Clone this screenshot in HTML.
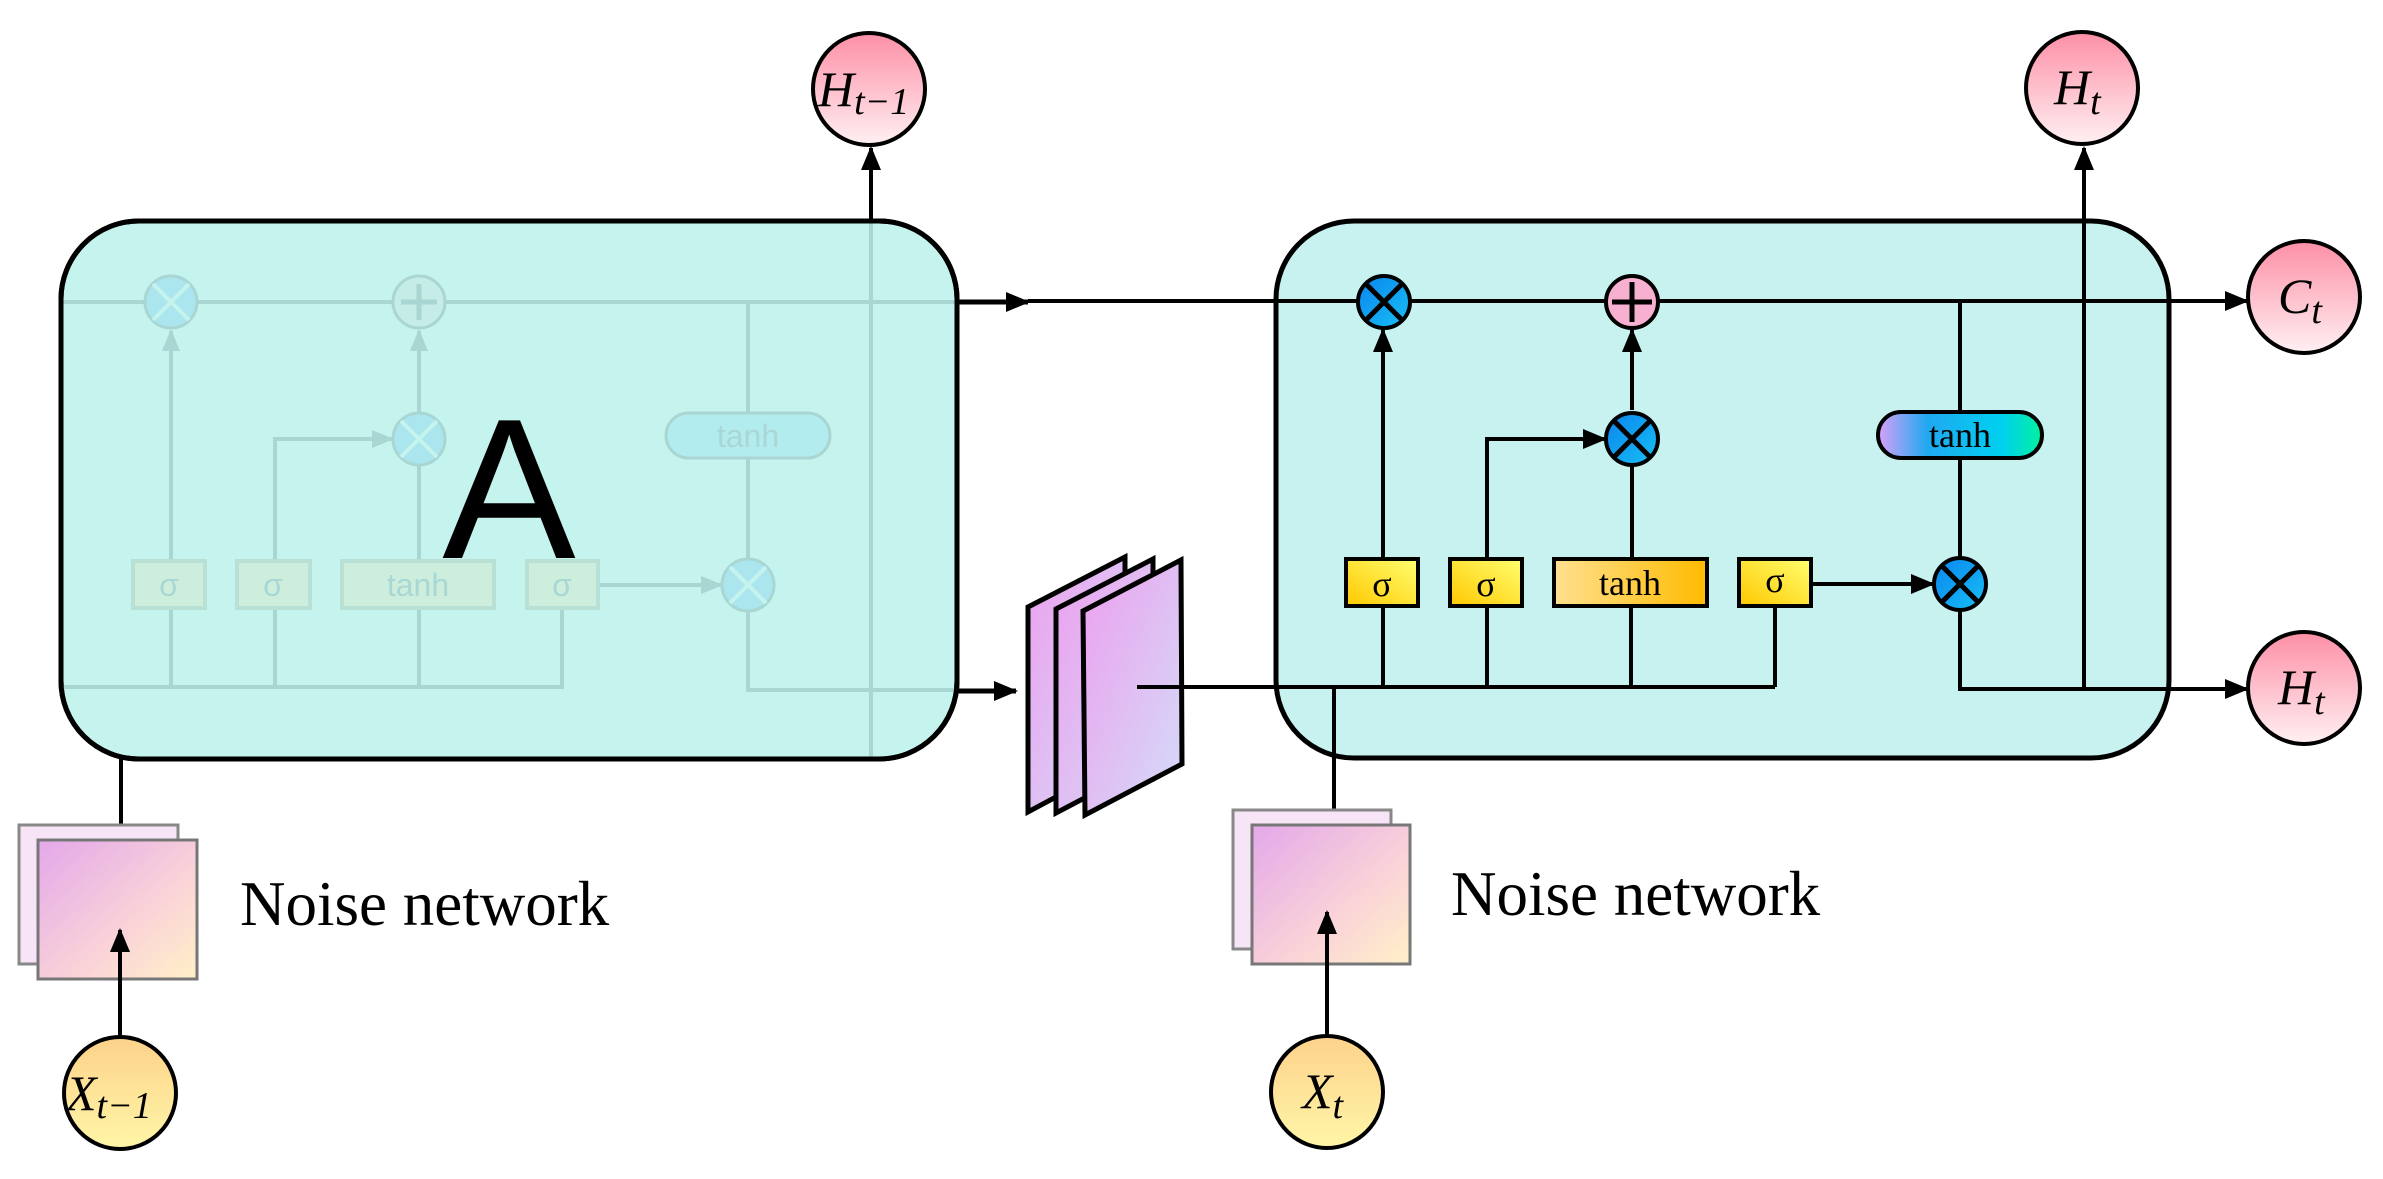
<!DOCTYPE html>
<html><head><meta charset="utf-8"><style>
html,body{margin:0;padding:0;background:#fff}
svg{display:block}
text{font-family:"Liberation Serif",serif}
</style></head><body>
<svg width="2383" height="1179" viewBox="0 0 2383 1179" xmlns="http://www.w3.org/2000/svg">
<defs>
<marker id="ar" markerWidth="24" markerHeight="20" refX="22" refY="10" orient="auto" markerUnits="userSpaceOnUse">
<path d="M0,0 L24,10 L0,20 Z" fill="#000"/></marker>
<marker id="arf" markerWidth="22" markerHeight="18" refX="20" refY="9" orient="auto" markerUnits="userSpaceOnUse">
<path d="M0,0 L22,9 L0,18 Z" fill="#a9d6d3"/></marker>
<linearGradient id="pk" x1="0" y1="0" x2="0" y2="1"><stop offset="0" stop-color="#fd8fa6"/><stop offset="1" stop-color="#fff0f2"/></linearGradient>
<linearGradient id="yl" x1="0" y1="0" x2="0" y2="1"><stop offset="0" stop-color="#fdd28a"/><stop offset="1" stop-color="#fff6a8"/></linearGradient>
<linearGradient id="bl" x1="0" y1="0" x2="1" y2="1"><stop offset="0" stop-color="#0a84ee"/><stop offset="1" stop-color="#18c0f5"/></linearGradient>
<linearGradient id="sg" x1="1" y1="0" x2="0" y2="1"><stop offset="0" stop-color="#ffff70"/><stop offset="1" stop-color="#ffc800"/></linearGradient>
<linearGradient id="th" x1="0" y1="0" x2="1" y2="0"><stop offset="0" stop-color="#ffe090"/><stop offset="1" stop-color="#ffbb00"/></linearGradient>
<linearGradient id="pill" x1="0" y1="0" x2="1" y2="0"><stop offset="0" stop-color="#d8a0f8"/><stop offset="0.3" stop-color="#20a8f0"/><stop offset="0.75" stop-color="#00d0f0"/><stop offset="1" stop-color="#00f0a0"/></linearGradient>
<linearGradient id="pn" x1="0" y1="0" x2="1" y2="1"><stop offset="0" stop-color="#eca0ee"/><stop offset="1" stop-color="#d4dcf8"/></linearGradient>
<linearGradient id="ns" x1="0" y1="0" x2="1" y2="1"><stop offset="0" stop-color="#e3a8ea"/><stop offset="0.6" stop-color="#fad3d8"/><stop offset="1" stop-color="#fff0c8"/></linearGradient>
</defs>

<!-- LEFT BOX -->
<rect x="61" y="221" width="896" height="538" rx="78" fill="#c5f3ed" stroke="#000" stroke-width="5"/>
<g stroke="#a9d6d3" stroke-width="4" fill="none">
<line x1="61" y1="302" x2="957" y2="302"/>
<line x1="171" y1="561" x2="171" y2="331" marker-end="url(#arf)"/>
<line x1="419" y1="412" x2="419" y2="331" marker-end="url(#arf)"/>
<polyline points="275,561 275,439 392,439" marker-end="url(#arf)"/>
<line x1="419" y1="561" x2="419" y2="466"/>
<line x1="748" y1="302" x2="748" y2="558"/>
<line x1="598" y1="585" x2="721" y2="585" marker-end="url(#arf)"/>
<polyline points="748,612 748,690 957,690"/>
<line x1="871" y1="221" x2="871" y2="759"/>
<polyline points="61,687 562,687 562,608"/>
<line x1="171" y1="687" x2="171" y2="608"/><line x1="275" y1="687" x2="275" y2="608"/><line x1="419" y1="687" x2="419" y2="608"/>
</g>
<g fill="#abe6ee" stroke="#a9d6d3" stroke-width="3">
<circle cx="171" cy="302" r="26"/><circle cx="419" cy="439" r="26"/><circle cx="748" cy="585" r="26"/>
<circle cx="419" cy="302" r="26" fill="#c5ece6"/>
</g>
<g stroke="#c5f3ed" stroke-width="4">
<path d="M153,284 L189,320 M189,284 L153,320"/><path d="M401,421 L437,457 M437,421 L401,457"/><path d="M730,567 L766,603 M766,567 L730,603"/>
</g>
<path d="M401,302 L437,302 M419,284 L419,320" stroke="#a9d6d3" stroke-width="5"/>
<g fill="#cdeedd" stroke="#b8e0d4" stroke-width="4">
<rect x="133" y="561" width="72" height="47"/><rect x="237" y="561" width="73" height="47"/><rect x="342" y="561" width="152" height="47"/><rect x="527" y="561" width="71" height="47"/>
</g>
<rect x="666" y="413" width="164" height="45" rx="22.5" fill="#b3ecee" stroke="#a9d6d3" stroke-width="3"/>
<g fill="#a9d8d4" font-family="Liberation Sans, sans-serif" text-anchor="middle" font-size="32">
<text x="169" y="596" style="font-family:'Liberation Sans',sans-serif">σ</text><text x="273" y="596" style="font-family:'Liberation Sans',sans-serif">σ</text>
<text x="418" y="596" style="font-family:'Liberation Sans',sans-serif">tanh</text><text x="562" y="596" style="font-family:'Liberation Sans',sans-serif">σ</text>
<text x="748" y="447" style="font-family:'Liberation Sans',sans-serif">tanh</text>
</g>
<text x="509" y="558" font-size="200" text-anchor="middle" style="font-family:'Liberation Sans',sans-serif">A</text>
<rect x="61" y="221" width="896" height="538" rx="78" fill="none" stroke="#000" stroke-width="5"/>

<!-- H t-1 -->
<line x1="871" y1="221" x2="871" y2="148" stroke="#000" stroke-width="4" marker-end="url(#ar)"/>
<circle cx="869" cy="89" r="56" fill="url(#pk)" stroke="#000" stroke-width="4"/>
<text x="818" y="106" font-size="50" font-style="italic">H<tspan font-size="38" dy="8">t−1</tspan></text>

<!-- left noise -->
<line x1="121" y1="759" x2="121" y2="825" stroke="#000" stroke-width="4"/>
<rect x="19" y="825" width="159" height="139" fill="#f4d8f2" fill-opacity="0.7" stroke="#888" stroke-width="3"/>
<rect x="38" y="840" width="159" height="139" fill="url(#ns)" stroke="#777" stroke-width="3"/>
<line x1="120" y1="1036" x2="120" y2="930" stroke="#000" stroke-width="4" marker-end="url(#ar)"/>
<circle cx="120" cy="1093" r="56" fill="url(#yl)" stroke="#000" stroke-width="4"/>
<text x="66" y="1110" font-size="50" font-style="italic">X<tspan font-size="38" dy="8">t−1</tspan></text>
<text x="240" y="925" font-size="63">Noise network</text>

<!-- arrows from left box -->
<line x1="957" y1="302" x2="1028" y2="302" stroke="#000" stroke-width="5" marker-end="url(#ar)"/>
<line x1="957" y1="691" x2="1016" y2="691" stroke="#000" stroke-width="5" marker-end="url(#ar)"/>

<!-- panels -->
<g stroke="#000" stroke-width="5" fill="url(#pn)">
<polygon points="1028,607 1125,557 1125,760 1028,812"/>
<polygon points="1056,609 1153,559 1153,762 1056,813"/>
<polygon points="1083,611 1181,560 1182,764 1085,815"/>
</g>

<!-- RIGHT BOX -->
<rect x="1276" y="221" width="893" height="537" rx="78" fill="#c7f2f0" stroke="#000" stroke-width="5"/>
<g stroke="#000" stroke-width="4" fill="none">
<line x1="1028" y1="301" x2="2247" y2="301" marker-end="url(#ar)"/>
<line x1="1137" y1="687" x2="1775" y2="687"/>
<line x1="1775" y1="687" x2="1775" y2="606"/>
<line x1="1383" y1="687" x2="1383" y2="606"/><line x1="1487" y1="687" x2="1487" y2="606"/><line x1="1631" y1="687" x2="1631" y2="606"/>
<line x1="1383" y1="559" x2="1383" y2="330" marker-end="url(#ar)"/>
<line x1="1632" y1="410" x2="1632" y2="330" marker-end="url(#ar)"/>
<polyline points="1487,559 1487,439 1605,439" marker-end="url(#ar)"/>
<line x1="1632" y1="559" x2="1632" y2="464"/>
<line x1="1811" y1="584" x2="1933" y2="584" marker-end="url(#ar)"/>
<line x1="1960" y1="301" x2="1960" y2="557"/>
<polyline points="1960,611 1960,689 2247,689" marker-end="url(#ar)"/>
<line x1="2084" y1="689" x2="2084" y2="148" marker-end="url(#ar)"/>
<line x1="1334" y1="687" x2="1334" y2="810"/>
</g>
<g stroke="#000" stroke-width="4">
<circle cx="1384" cy="302" r="26" fill="url(#bl)"/><circle cx="1632" cy="439" r="26" fill="url(#bl)"/><circle cx="1960" cy="584" r="26" fill="url(#bl)"/>
<circle cx="1632" cy="302" r="26" fill="#f8b0d0"/>
</g>
<g stroke="#000" stroke-width="5">
<path d="M1366,284 L1402,320 M1402,284 L1366,320"/><path d="M1614,421 L1650,457 M1650,421 L1614,457"/><path d="M1942,566 L1978,602 M1978,566 L1942,602"/>
<path d="M1612,302 L1652,302 M1632,282 L1632,322"/>
</g>
<g stroke="#000" stroke-width="4">
<rect x="1346" y="559" width="72" height="47" fill="url(#sg)"/><rect x="1450" y="559" width="72" height="47" fill="url(#sg)"/>
<rect x="1554" y="559" width="153" height="47" fill="url(#th)"/><rect x="1739" y="559" width="72" height="47" fill="url(#sg)"/>
<rect x="1878" y="412" width="164" height="46" rx="23" fill="url(#pill)"/>
</g>
<g font-size="36" text-anchor="middle">
<text x="1382" y="596">σ</text><text x="1486" y="596">σ</text><text x="1630" y="595">tanh</text><text x="1775" y="592">σ</text>
<text x="1960" y="447">tanh</text>
</g>

<!-- right outputs -->
<circle cx="2082" cy="88" r="56" fill="url(#pk)" stroke="#000" stroke-width="4"/>
<text x="2054" y="104" font-size="50" font-style="italic">H<tspan font-size="38" dy="10">t</tspan></text>
<circle cx="2304" cy="297" r="56" fill="url(#pk)" stroke="#000" stroke-width="4"/>
<text x="2278" y="313" font-size="50" font-style="italic">C<tspan font-size="38" dy="10">t</tspan></text>
<circle cx="2304" cy="688" r="56" fill="url(#pk)" stroke="#000" stroke-width="4"/>
<text x="2278" y="704" font-size="50" font-style="italic">H<tspan font-size="38" dy="10">t</tspan></text>

<!-- right noise -->
<rect x="1233" y="810" width="158" height="139" fill="#f4d8f2" fill-opacity="0.7" stroke="#888" stroke-width="3"/>
<rect x="1252" y="825" width="158" height="139" fill="url(#ns)" stroke="#777" stroke-width="3"/>
<line x1="1327" y1="1035" x2="1327" y2="912" stroke="#000" stroke-width="4" marker-end="url(#ar)"/>
<circle cx="1327" cy="1092" r="56" fill="url(#yl)" stroke="#000" stroke-width="4"/>
<text x="1302" y="1108" font-size="50" font-style="italic">X<tspan font-size="38" dy="10">t</tspan></text>
<text x="1451" y="915" font-size="63">Noise network</text>
</svg>
</body></html>
